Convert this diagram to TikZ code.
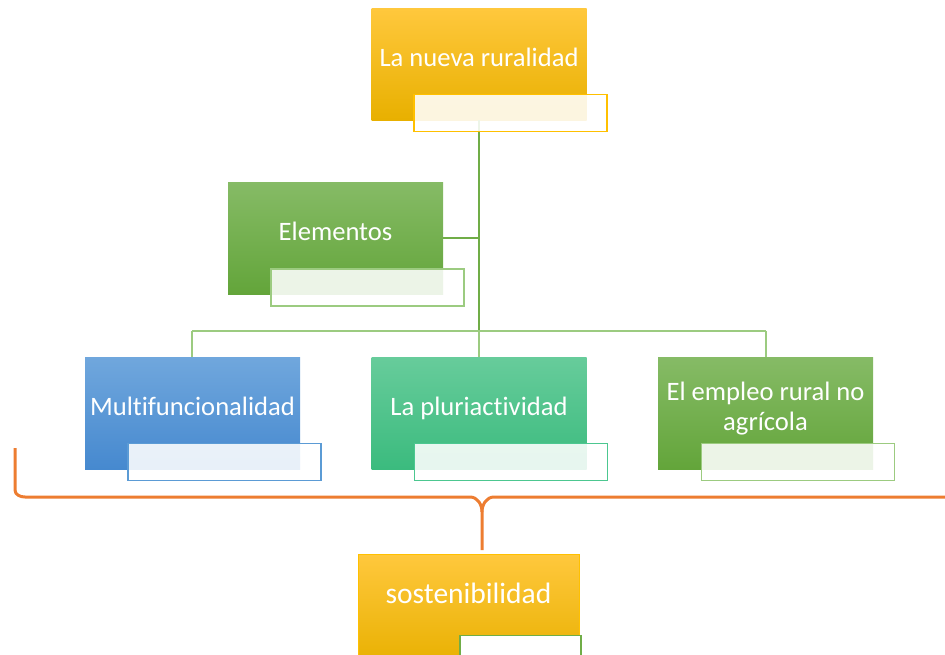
\documentclass[tikz,border=0pt]{standalone}
\usepackage{fontspec}
\setmainfont{Carlito}[Ligatures=NoCommon]
\usetikzlibrary{positioning}

\definecolor{amber}{HTML}{FFC000}
\definecolor{amberTop}{HTML}{FFC83D}
\definecolor{amberBot}{HTML}{E8B000}
\definecolor{leaf}{HTML}{70AD47}
\definecolor{leafTop}{HTML}{86BB66}
\definecolor{leafBot}{HTML}{63A53A}
\definecolor{leafLight}{HTML}{9CCB80}
\definecolor{sky}{HTML}{5B9BD5}
\definecolor{skyTop}{HTML}{70A7DD}
\definecolor{skyBot}{HTML}{4689CF}
\definecolor{mint}{HTML}{4CC790}
\definecolor{mintTop}{HTML}{67CC9B}
\definecolor{mintBot}{HTML}{3BBB7E}
\definecolor{braceOrange}{HTML}{ED7D31}

\begin{document}
\begin{tikzpicture}[x=1pt,y=-1pt,semithick]
	\tikzstyle{box}=[rectangle,minimum width=215pt,minimum height=112pt,inner sep=0pt,
		text=white,font=\fontsize{26.6}{30}\selectfont,align=center,text height=16pt,text depth=12pt]
	\tikzstyle{tag}=[rectangle,fill=white,fill opacity=0.88,draw opacity=1,line width=1.2pt,
		minimum width=193pt,minimum height=37pt,inner sep=0pt]
	\tikzstyle{trunk}=[draw=leaf,line width=1.6pt]
	\tikzstyle{twig}=[draw=leafLight,line width=1.3pt]

	\clip (0,0) rectangle (945,654);

	% connectors first, boxes go on top
	\coordinate (fork) at (479,331);
	\coordinate (mid) at (479,238);
	\coordinate (multiUp) at (192,331);
	\coordinate (plurUp) at (479,331);
	\coordinate (emplUp) at (766,331);

	\node[box,top color=amberTop,bottom color=amberBot] (root) at (479,64) {La nueva ruralidad};
	\node[box,top color=leafTop,bottom color=leafBot] (elem) at (335.5,238) {Elementos};
	\node[box,top color=skyTop,bottom color=skyBot] (multi) at (192.5,413) {Multifuncionalidad};
	\node[box,top color=mintTop,bottom color=mintBot] (plur) at (479,413) {La pluriactividad};
	\node[box,top color=leafTop,bottom color=leafBot,text height=48pt,text depth=14pt] (empl) at (765.5,413) {El empleo rural no\\agrícola};
	\node[box,top color=amberTop,bottom color=amberBot,draw=amber,line width=0.8pt,minimum width=221pt,
		font=\fontsize{29.5}{34}\selectfont,text height=16pt,text depth=30pt] (sost) at (468.5,610) {sostenibilidad};

	\draw[trunk] (root.south -| fork) -- (fork);
	\draw[trunk] (elem.east) -- (mid);
	\draw[twig] (multiUp) -- (emplUp);
	\draw[twig] (multiUp) -- (multi.north -| multiUp);
	\draw[twig] (plurUp) -- (plur.north);
	\draw[twig] (emplUp) -- (empl.north -| emplUp);

	\node[tag,draw=amber] (rootT) at (510.5,113) {};
	\node[tag,draw=leafLight] (elemT) at (367.5,287.5) {};
	\node[tag,draw=sky] (multiT) at (224.5,462) {};
	\node[tag,draw=mint] (plurT) at (511,462) {};
	\node[tag,draw=leafLight] (emplT) at (798,462) {};
	\node[tag,draw=leaf,fill opacity=1,line width=1.6pt,minimum width=121pt] (sostT) at (520.5,654) {};

	% brace above sostenibilidad
	\draw[braceOrange,line width=3pt,line join=round]
		(15,448) -- (15,490) to[out=-90,in=180] (25,497) -- (470,497)
		to[out=0,in=90] (482,512) -- (482,550);
	\draw[braceOrange,line width=3pt,line join=round]
		(482,512) to[out=90,in=180] (494,497) -- (950,497);
\end{tikzpicture}
\end{document}
